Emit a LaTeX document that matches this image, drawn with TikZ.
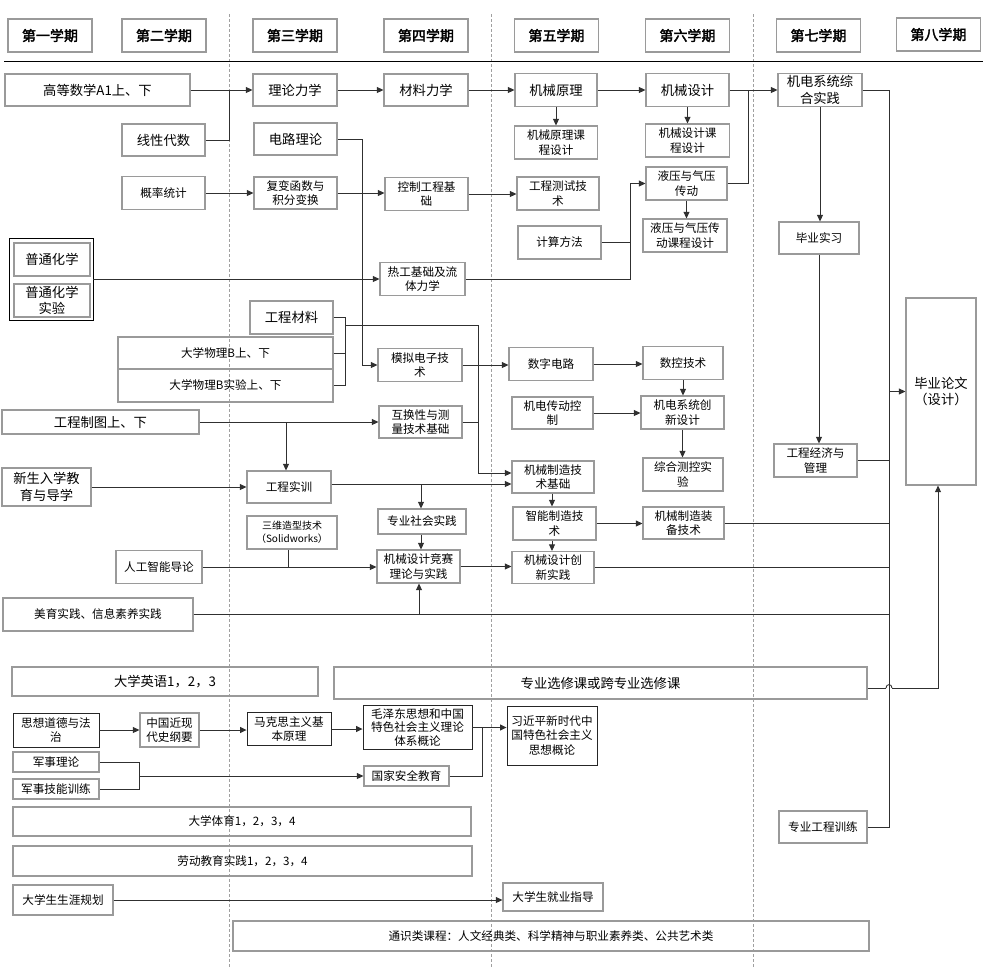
\documentclass[tikz,border=0pt]{standalone}
\usepackage{fontspec}
\setmainfont{Noto Sans CJK SC}[AutoFakeBold=2.5]
\usetikzlibrary{arrows.meta,calc}
\definecolor{bxc}{HTML}{9A9A9A}
\definecolor{lnc}{HTML}{303030}
\definecolor{sepc}{HTML}{A0A0A0}
\tikzset{
  box/.style={draw=bxc, line width=1.2pt, inner sep=0pt, align=center},
  kbox/.style={box, draw=black!85, line width=0.9pt},
  wh/.style 2 args={minimum width=#1pt, minimum height=#2pt},
  big/.style={font=\fontsize{13.3}{16.5}\selectfont},
  sml/.style={font=\fontsize{11.6}{14.6}\selectfont},
  tiny/.style={font=\fontsize{10}{13}\selectfont},
  hdr/.style={box, wh={84}{33}, font=\fontsize{14}{16}\selectfont\bfseries},
  conn/.style={draw=lnc, line width=0.9pt},
  arr/.style={conn, -{Triangle[length=6.5pt,width=6pt]}},
  semline/.style={draw=sepc, line width=0.6pt, dash pattern=on 3pt off 2pt}
}
\begin{document}
\begin{tikzpicture}[x=1pt,y=-1pt]
\useasboundingbox (0,0) rectangle (986,970);
% semester separators
\draw[semline] (229,14) -- (229,968);
\draw[semline] (491,14) -- (491,968);
\draw[semline] (753,14) -- (753,968);
\draw[black, line width=0.9pt] (4,61) -- (983,61);
% headers
\node[hdr] (h1) at (50,35.5) {第一学期};
\node[hdr] (h2) at (164,35.5) {第二学期};
\node[hdr] (h3) at (295,35.5) {第三学期};
\node[hdr] (h4) at (426,35.5) {第四学期};
\node[hdr] (h5) at (556.5,35.5) {第五学期};
\node[hdr] (h6) at (687.5,35.5) {第六学期};
\node[hdr] (h7) at (818.5,35.5) {第七学期};
\node[hdr] (h8) at (938.5,34.5) {第八学期};
% row 1
\node[box,big,wh={185}{32}] (gdsx) at (97.5,90) {高等数学A1上、下};
\node[box,big,wh={84}{32}] (llxx) at (295,90) {理论力学};
\node[box,big,wh={84}{32}] (clxx) at (426,90) {材料力学};
\node[box,big,wh={82}{33}] (jxyl) at (556,90) {机械原理};
\node[box,big,wh={83}{33}] (jxsj) at (687.5,90) {机械设计};
\node[box,big,wh={84}{33}] (jdzh) at (820,90) {机电系统综\\合实践};
\node[box,big,wh={83}{32}] (xxds) at (163.5,140) {线性代数};
\node[box,big,wh={83}{32}] (dllr) at (295.5,139) {电路理论};
\node[box,sml,wh={83}{33}] (jyk) at (556,142.5) {机械原理课\\程设计};
\node[box,sml,wh={84}{33}] (jsk) at (687.5,140.5) {机械设计课\\程设计};
\node[box,sml,wh={83}{33}] (gltj) at (163.5,193) {概率统计};
\node[box,sml,wh={83}{32}] (fbhs) at (295.5,193) {复变函数与\\积分变换};
\node[box,sml,wh={83}{33}] (kzgc) at (426.5,194) {控制工程基\\础};
\node[box,sml,wh={82}{33}] (gcss) at (558,193.5) {工程测试技\\术};
\node[box,sml,wh={81}{33}] (yyqy) at (686.5,183.5) {液压与气压\\传动};
\node[box,sml,wh={84}{33}] (yyk) at (685,235.5) {液压与气压传\\动课程设计};
\node[box,sml,wh={83}{33}] (jsff) at (559.5,242.5) {计算方法};
\node[box,sml,wh={80}{32}] (byxx) at (819,238) {毕业实习};
\node[box,draw=black,line width=0.9pt,wh={84}{82}] (pthx) at (51,279) {};
\node[box,big,wh={76}{33}] (pthxa) at (52,259.5) {普通化学};
\node[box,big,wh={76}{33}] (pthxb) at (52,300.5) {普通化学\\实验};
\node[box,sml,wh={85}{33}] (rgjc) at (422.5,279) {热工基础及流\\体力学};
\node[box,big,wh={83}{33}] (gccl) at (291.5,317.5) {工程材料};
\node[box,sml,wh={215}{32}] (dxwl) at (225.5,353) {大学物理B上、下};
\node[box,sml,wh={215}{33}] (dxwls) at (225.5,385.5) {大学物理B实验上、下};
\node[box,sml,wh={84}{33}] (mndz) at (420,365) {模拟电子技\\术};
\node[box,sml,wh={84}{33}] (szdl) at (551,364) {数字电路};
\node[box,sml,wh={80}{33}] (skjs) at (683,363) {数控技术};
\node[box,big,wh={70}{187}] (bylw) at (941,391.5) {毕业论文\\（设计）};
\node[box,sml,wh={81}{32}] (jdcd) at (552.5,413) {机电传动控\\制};
\node[box,sml,wh={83}{33}] (jdcx) at (682.5,412.5) {机电系统创\\新设计};
\node[box,big,wh={197}{24}] (gczt) at (100.5,422) {工程制图上、下};
\node[box,sml,wh={83}{32}] (hhx) at (420.5,422) {互换性与测\\量技术基础};
\node[box,sml,wh={83}{33}] (gjgl) at (815.5,460.5) {工程经济与\\管理};
\node[box,sml,wh={80}{33}] (zhck) at (683,474.5) {综合测控实\\验};
\node[box,sml,wh={82}{32}] (jxzz) at (553,477) {机械制造技\\术基础};
\node[box,big,wh={89}{38}] (xsrx) at (46.5,487) {新生入学教\\育与导学};
\node[box,sml,wh={84}{32}] (gcsx) at (289,487) {工程实训};
\node[box,sml,wh={88}{25}] (zysh) at (422,521.5) {专业社会实践};
\node[box,tiny,wh={90}{33}] (swzx) at (292,532.5) {三维造型技术\\（Solidworks）};
\node[box,sml,wh={83}{33}] (znzz) at (554.5,523.5) {智能制造技\\术};
\node[box,sml,wh={81}{32}] (jxzb) at (683.5,523) {机械制造装\\备技术};
\node[box,sml,wh={86}{33}] (rgzn) at (159,567) {人工智能导论};
\node[box,sml,wh={83}{33}] (jxjs) at (418.5,566.5) {机械设计竞赛\\理论与实践};
\node[box,sml,wh={82}{32}] (jxcx) at (553,567.5) {机械设计创\\新实践};
\node[box,sml,wh={190}{33}] (myxx) at (98,614.5) {美育实践、信息素养实践};
\node[box,big,wh={306}{29}] (dxyy) at (165,681.5) {大学英语1，2，3};
\node[box,big,wh={533}{32}] (zyxx) at (600.5,683) {专业选修课或跨专业选修课};
\node[kbox,sml,wh={86}{34}] (sxdd) at (56,730) {思想道德与法\\治};
\node[box,sml,wh={59}{34}] (zgjx) at (169.5,730) {中国近现\\代史纲要};
\node[kbox,sml,wh={84}{33}] (mks) at (289,729) {马克思主义基\\本原理};
\node[kbox,sml,wh={109}{44},font=\fontsize{11.6}{13.8}\selectfont] (mzd) at (417.5,727.5) {毛泽东思想和中国\\特色社会主义理论\\体系概论};
\node[kbox,sml,wh={90}{59}] (xjp) at (552,735.5) {习近平新时代中\\国特色社会主义\\思想概论};
\node[box,sml,wh={86}{20}] (jsll) at (56,762) {军事理论};
\node[box,sml,wh={86}{20}] (jsjn) at (56,789) {军事技能训练};
\node[box,sml,wh={85}{20}] (gjaq) at (406.5,776) {国家安全教育};
\node[box,sml,wh={458}{29}] (dxty) at (242,821.5) {大学体育1，2，3，4};
\node[box,sml,wh={459}{30}] (ldjy) at (242.5,861) {劳动教育实践1，2，3，4};
\node[box,sml,wh={88}{32}] (zygc) at (823,827) {专业工程训练};
\node[box,sml,wh={100}{30}] (dxsy) at (63,900) {大学生生涯规划};
\node[box,sml,wh={100}{28}] (dxjy) at (553,897) {大学生就业指导};
\node[box,sml,wh={636}{30}] (tsk) at (551,936) {通识类课程：人文经典类、科学精神与职业素养类、公共艺术类};
% bus coordinates
\coordinate (vA) at (229,0);
\coordinate (vB) at (362,0);
\coordinate (vC) at (630,0);
\coordinate (vD) at (748,0);
\coordinate (vE) at (889,0);
\coordinate (vF) at (345,325);
\coordinate (vG) at (478,325);
\coordinate (vH) at (286,0);
\coordinate (vI) at (421,484);
\coordinate (vJ) at (288,0);
\coordinate (vK) at (419,0);
\coordinate (vL) at (938,0);
\coordinate (vM) at (482,0);
\coordinate (vN) at (139,0);
\coordinate (vS) at (552,0);
% connectors row 1
\draw[arr] (gdsx.east) -- (llxx.west);
\draw[conn] (xxds.east) -- (xxds.east -| vA) -- (llxx.west -| vA);
\draw[arr] (llxx.east) -- (clxx.west);
\draw[arr] (clxx.east) -- (jxyl.west);
\draw[arr] (jxyl.east) -- (jxsj.west);
\draw[arr] (jxsj.east) -- (jdzh.west);
\draw[conn] (yyqy.east) -- (yyqy.east -| vD) -- (jxsj.east -| vD);
\draw[arr] (jxyl.south) -- (jxyl.south |- jyk.north);
\draw[arr] (jxsj.south) -- (jxsj.south |- jsk.north);
\draw[arr] (gltj.east) -- (gltj.east -| fbhs.west);
\draw[arr] (fbhs.east) -- (fbhs.east -| kzgc.west);
\draw[arr] (kzgc.east) -- (kzgc.east -| gcss.west);
\draw[arr] (dllr.east) -- (dllr.east -| vB) |- (mndz.west);
\draw[conn] (jsff.east) -- (jsff.east -| vC);
\draw[arr] (rgjc.east) -- (rgjc.east -| vC) |- (yyqy.west);
\draw[arr] (pthx.east) -- (pthx.east -| rgjc.west);
\draw[arr] (yyqy.south) -- (yyqy.south |- yyk.north);
\draw[arr] (jdzh.south) -- (jdzh.south |- byxx.north);
\draw[arr] (byxx.south) -- (byxx.south |- gjgl.north);
\draw[conn] (jdzh.east) -- (jdzh.east -| vE) |- (zygc.east);
\draw[arr] (bylw.west -| vE) -- (bylw.west);
\draw[conn] (gjgl.east) -- (gjgl.east -| vE);
% bracket of physics / materials
\draw[conn] (gccl.east) -- (gccl.east -| vF) -- (dxwls.east -| vF) -- (dxwls.east);
\draw[conn] (dxwl.east) -- (dxwl.east -| vF);
\draw[arr] (vF) -- (vG) |- ($(jxzz.west)+(0,-4)$);
\draw[conn] (hhx.east) -- (hhx.east -| vG);
\draw[arr] (mndz.east) -- (mndz.east -| szdl.west);
\draw[arr] (szdl.east) -- (szdl.east -| skjs.west);
\draw[arr] (skjs.south) -- (skjs.south |- jdcx.north);
\draw[arr] (jdcd.east) -- (jdcd.east -| jdcx.west);
\draw[arr] (jdcx.south) -- (jdcx.south |- zhck.north);
\draw[arr] (gczt.east) -- (gczt.east -| hhx.west);
\draw[arr] (gczt.east -| vH) -- (vH |- gcsx.north);
\draw[arr] (xsrx.east) -- (xsrx.east -| gcsx.west);
\draw[arr] ($(gcsx.east)+(0,-3)$) -- ($(jxzz.west)+(0,7)$);
\draw[arr] (vI) -- (vI |- zysh.north);
\draw[arr] (zysh.south -| vI) -- (vI |- jxjs.north);
\draw[arr] (rgzn.east) -- (rgzn.east -| jxjs.west);
\draw[conn] (vJ |- swzx.south) -- (vJ |- rgzn.east);
\draw[conn] (myxx.east) -- (myxx.east -| vE);
\draw[arr] (myxx.east -| vK) -- (vK |- jxjs.south);
\draw[arr] (jxjs.east) -- (jxjs.east -| jxcx.west);
\draw[arr] (vS |- jxzz.south) -- (vS |- znzz.north);
\draw[arr] (vS |- znzz.south) -- (vS |- jxcx.north);
\draw[arr] (znzz.east) -- (znzz.east -| jxzb.west);
\draw[conn] (jxzb.east) -- (jxzb.east -| vE);
\draw[conn] (jxcx.east) -- (jxcx.east -| vE);
% electives to thesis, with a hop over the bus
\coordinate (zo) at (867,688);
\coordinate (hopa) at (886,688);
\coordinate (hopb) at (892,688);
\coordinate (zc) at (938,688);
\draw[conn] (zyxx.east |- zo) -- (hopa);
\draw[conn] (hopa) .. controls (886,683.5) and (892,683.5) .. (hopb);
\draw[arr] (hopb) -- (zc) -- (zc |- bylw.south);
% political courses
\draw[arr] (sxdd.east) -- (sxdd.east -| zgjx.west);
\draw[arr] (zgjx.east) -- (zgjx.east -| mks.west);
\draw[arr] (mks.east) -- (mks.east -| mzd.west);
\draw[arr] (mzd.east) -- (mzd.east -| xjp.west);
\draw[conn] (gjaq.east) -- (gjaq.east -| vM) -- (mzd.east -| vM);
\draw[conn] (jsll.east) -- (jsll.east -| vN) -- (jsjn.east -| vN) -- (jsjn.east);
\draw[arr] (gjaq.west -| vN) -- (gjaq.west);
\draw[arr] (dxsy.east) -- (dxsy.east -| dxjy.west);
\end{tikzpicture}
\end{document}
